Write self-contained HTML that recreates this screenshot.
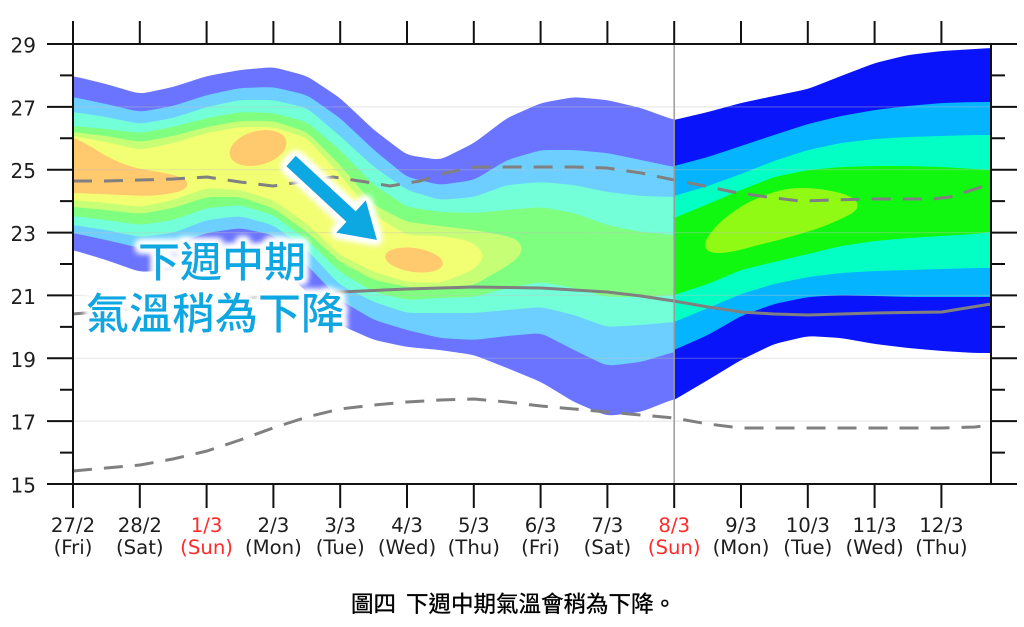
<!DOCTYPE html>
<html><head><meta charset="utf-8"><style>
html,body{margin:0;padding:0;background:#fff;}
svg{display:block;}
.tl{font-family:"DejaVu Sans","Liberation Sans",sans-serif;font-size:19.7px;fill:#1e1e1e;text-anchor:middle;}
.yl{font-family:"DejaVu Sans","Liberation Sans",sans-serif;font-size:20px;fill:#1e1e1e;text-anchor:end;}
.red{fill:#ff2a2a;}
.ann{font-family:"Liberation Sans","Noto Sans CJK TC",sans-serif;fill:#0ea7e2;text-anchor:middle;font-weight:500;}
.cap{font-family:"Liberation Sans","Noto Sans CJK TC",sans-serif;font-size:22.5px;fill:#000;font-weight:400;stroke:#000;stroke-width:0.35px;}
.sm{filter:url(#smooth);}
</style></head><body>
<svg width="1024" height="627" viewBox="0 0 1024 627" xmlns="http://www.w3.org/2000/svg">
<defs>
<filter id="glow" x="-20%" y="-40%" width="140%" height="180%">
<feMorphology in="SourceAlpha" operator="dilate" radius="3" result="d"/>
<feGaussianBlur in="d" stdDeviation="3.5" result="b"/>
<feFlood flood-color="#ffffff"/>
<feComposite in2="b" operator="in" result="w"/>
<feMerge><feMergeNode in="w"/><feMergeNode in="w"/><feMergeNode in="w"/><feMergeNode in="SourceGraphic"/></feMerge>
</filter>
<filter id="smooth" filterUnits="userSpaceOnUse" x="0" y="0" width="1024" height="627" color-interpolation-filters="sRGB">
<feGaussianBlur in="SourceGraphic" stdDeviation="5" result="b"/>
<feComponentTransfer in="b">
<feFuncA type="linear" slope="24" intercept="-11.5"/>
</feComponentTransfer>
</filter>
<clipPath id="clipL"><rect x="73" y="0" width="601.2" height="627"/></clipPath>
<clipPath id="clipR"><rect x="674.2" y="0" width="316.8" height="627"/></clipPath>
</defs>
<rect width="1024" height="627" fill="#fff"/>

<!-- Left (faded) fan -->
<g clip-path="url(#clipL)">
<polygon class="sm" fill="#6b74ff" points="45,76 73,76 106,84 140,94 173,87 207,76 240,70 273,67 307,76 340,98 374,130 407,155 440,160 474,143 507,118 541,103 574,97 607,100 641,108 674,120 700,122 700,397 674,399 641,412 607,416 574,402 541,382 507,368 474,355 440,350 407,347 374,340 340,325 307,292 273,262 240,252 207,258 173,270 140,272 106,260 73,250 45,250"/>
<polygon class="sm" fill="#6dcfff" points="45,97 73,97 106,104 140,112 173,106 207,95 240,88 273,87 307,95 340,118 374,150 407,177 440,185 474,180 507,160 541,150 574,150 607,153 641,160 674,167 700,168 700,350 674,352 641,362 607,366 574,350 541,333 507,336 474,340 440,338 407,330 374,320 340,300 307,265 273,235 240,228 207,233 173,245 140,248 106,240 73,233 45,233"/>
<polygon class="sm" fill="#73ffd8" points="45,112 73,112 106,117 140,124 173,118 207,107 240,100 273,100 307,108 340,136 374,167 407,190 440,200 474,197 507,185 541,182 574,185 607,192 641,196 674,197 700,197 700,321 674,322 641,325 607,327 574,315 541,307 507,310 474,313 440,313 407,313 374,302 340,285 307,250 273,225 240,216 207,220 173,233 140,237 106,230 73,225 45,225"/>
<polygon class="sm" fill="#7fff7f" points="45,126 73,126 106,129 140,133 173,127 207,118 240,112 273,113 307,122 340,150 374,185 407,207 440,212 474,213 507,210 541,207 574,213 607,225 641,232 674,235 700,236 700,294 674,295 641,297 607,297 574,288 541,282 507,288 474,297 440,298 407,300 374,292 340,272 307,240 273,215 240,205 207,208 173,220 140,225 106,220 73,216 45,216"/>
<polygon class="sm" fill="#c6ff76" points="45,132 73,132 106,136 140,142 173,136 207,127 240,121 273,121 307,132 340,165 374,205 407,222 440,226 474,230 507,236 518,240 524,248 518,258 507,266 474,285 440,288 407,287 374,280 340,262 307,232 273,208 240,197 207,197 173,208 140,214 106,210 73,207 45,207"/>
<polygon class="sm" fill="#f2ff72" points="45,136 73,136 106,142 140,150 173,143 207,133 240,127 273,127 307,138 340,175 374,215 407,235 440,236 466,240 478,246 485,256 478,266 466,273 440,283 407,282 374,272 340,255 307,224 273,200 240,190 207,188 173,200 140,207 106,203 73,200 45,200"/>
<polygon class="sm" fill="#ffc96e" points="45,137 73,137 90,146 106,156 123,164 140,169 160,172 178,176 191,181 189,188 175,193 150,196 120,195 100,194 73,193 45,193"/>
<ellipse fill="#ffc96e" cx="258" cy="148" rx="29" ry="17" transform="rotate(-15 258 148)"/>
<ellipse fill="#ffc96e" cx="414" cy="260" rx="29" ry="12" transform="rotate(8 414 260)"/>
</g>

<!-- Right (saturated) fan -->
<g clip-path="url(#clipR)">
<polygon class="sm" fill="#0a14fa" points="650,124 674,120 708,112 741,103 774,96 808,89 841,76 875,63 908,55 942,51 975,49 991,48 1015,48 1015,353 991,353 975,353 942,351 908,348 875,344 841,338 808,336 774,344 741,360 708,380 674,400 650,414"/>
<polygon class="sm" fill="#04b4ff" points="650,172 674,166 708,157 741,146 774,135 808,124 841,116 875,110 908,106 942,103 975,102 991,102 1015,102 1015,297 991,297 975,297 942,297 908,297 875,296 841,295 808,297 774,304 741,316 708,335 674,350 650,360"/>
<polygon class="sm" fill="#04ffc4" points="650,203 674,196 708,186 741,174 774,161 808,150 841,143 875,139 908,137 942,136 975,135 991,135 1015,135 1015,268 991,268 975,268 942,269 908,270 875,271 841,273 808,277 774,284 741,294 708,308 674,322 650,331"/>
<polygon class="sm" fill="#10f810" points="650,228 674,218 708,204 741,190 774,177 808,170 841,167 875,166 908,166 942,167 975,169 991,170 1015,171 1015,231 991,232 975,234 942,236 908,238 875,241 841,246 808,254 774,262 741,270 708,284 674,295 650,302"/>
<polygon class="sm" fill="#90fa14" points="702,248 708,236 718,224 730,214 745,204 760,197 777,191 793,188 810,188 827,190 845,194 857,200 861,207 853,213 843,218 825,226 810,231 793,236 775,241 758,245 740,250 725,253 710,253"/>
</g>

<!-- grid -->
<g stroke="#c0c0c0" stroke-opacity="0.35" stroke-width="1.2">
<line x1="73" y1="106.9" x2="991" y2="106.9"/>
<line x1="73" y1="169.7" x2="991" y2="169.7"/>
<line x1="73" y1="232.6" x2="991" y2="232.6"/>
<line x1="73" y1="295.4" x2="991" y2="295.4"/>
<line x1="73" y1="358.3" x2="991" y2="358.3"/>
<line x1="73" y1="421.1" x2="991" y2="421.1"/>
</g>

<!-- climatology lines -->
<g fill="none" stroke="#808080" stroke-width="3" stroke-linejoin="round">
<polyline stroke-dasharray="19 12" points="73,181 106,181 140,180 173,179 207,177 240,182 273,186 307,181 333,177 360,181 390,186 420,181 445,173 474,167 507,167 541,167 574,167 607,168 641,173 674,180 700,185 733,192 767,197 800,201 833,200 867,199 933,199 950,197 991,184"/>
<polyline stroke-dasharray="19 12" points="73,471 106,468 140,465 173,459 207,451 240,440 273,428 307,417 340,409 374,405 407,402 440,400 474,399 507,402 541,406 574,409 607,412 641,415 674,418 708,424 741,428 942,428 975,427 991,425"/>
<polyline points="73,314 140,308 207,302 273,296 340,292 407,289 474,287 541,288 607,292 641,296 674,301 708,307 741,312 774,314 808,315 841,314 875,313 942,312 960,309 991,304"/>
</g>

<line x1="674.2" y1="44" x2="674.2" y2="484" stroke="#9a9a9a" stroke-width="1.5"/>

<!-- annotation -->
<g filter="url(#glow)">
<text class="ann" x="222" y="277" font-size="42">下週中期</text>
<text class="ann" x="215" y="329" font-size="43">氣溫稍為下降</text>
<polygon fill="#0ea7e2" points="286.3,166.2 295.7,155.8 355.7,211.3 365.8,200.2 377,240 336.2,232.8 346.3,221.7"/>
</g>

<!-- axes -->
<g stroke="#111" stroke-width="2" fill="none">
<path d="M47,44 H1017 M47,484 H1017 M73,21 V508 M991,44 V484"/>
<path d="M139.8,21V44 M206.6,21V44 M273.4,21V44 M340.2,21V44 M407,21V44 M473.8,21V44 M540.6,21V44 M607.4,21V44 M674.2,21V44 M741,21V44 M807.8,21V44 M874.6,21V44 M941.4,21V44"/>
<path d="M139.8,484V508 M206.6,484V508 M273.4,484V508 M340.2,484V508 M407,484V508 M473.8,484V508 M540.6,484V508 M607.4,484V508 M674.2,484V508 M741,484V508 M807.8,484V508 M874.6,484V508 M941.4,484V508"/>
<path d="M47,106.9H73 M47,169.7H73 M47,232.6H73 M47,295.4H73 M47,358.3H73 M47,421.1H73"/>
<path d="M60,75.4H73 M60,138.3H73 M60,201.1H73 M60,264H73 M60,326.9H73 M60,389.7H73 M60,452.6H73"/>
<path d="M991,106.9H1017 M991,169.7H1017 M991,232.6H1017 M991,295.4H1017 M991,358.3H1017 M991,421.1H1017"/>
<path d="M991,75.4H1005 M991,138.3H1005 M991,201.1H1005 M991,264H1005 M991,326.9H1005 M991,389.7H1005 M991,452.6H1005"/>
</g>

<!-- y labels -->
<text class="yl" x="36" y="52.5">29</text>
<text class="yl" x="36" y="115.4">27</text>
<text class="yl" x="36" y="178.2">25</text>
<text class="yl" x="36" y="241.1">23</text>
<text class="yl" x="36" y="303.9">21</text>
<text class="yl" x="36" y="366.8">19</text>
<text class="yl" x="36" y="429.6">17</text>
<text class="yl" x="36" y="492.5">15</text>

<!-- x labels -->
<text class="tl" x="73" y="532">27/2</text><text class="tl" x="73" y="554">(Fri)</text>
<text class="tl" x="139.8" y="532">28/2</text><text class="tl" x="139.8" y="554">(Sat)</text>
<text class="tl red" x="206.6" y="532">1/3</text><text class="tl red" x="206.6" y="554">(Sun)</text>
<text class="tl" x="273.4" y="532">2/3</text><text class="tl" x="273.4" y="554">(Mon)</text>
<text class="tl" x="340.2" y="532">3/3</text><text class="tl" x="340.2" y="554">(Tue)</text>
<text class="tl" x="407" y="532">4/3</text><text class="tl" x="407" y="554">(Wed)</text>
<text class="tl" x="473.8" y="532">5/3</text><text class="tl" x="473.8" y="554">(Thu)</text>
<text class="tl" x="540.6" y="532">6/3</text><text class="tl" x="540.6" y="554">(Fri)</text>
<text class="tl" x="607.4" y="532">7/3</text><text class="tl" x="607.4" y="554">(Sat)</text>
<text class="tl red" x="674.2" y="532">8/3</text><text class="tl red" x="674.2" y="554">(Sun)</text>
<text class="tl" x="741" y="532">9/3</text><text class="tl" x="741" y="554">(Mon)</text>
<text class="tl" x="807.8" y="532">10/3</text><text class="tl" x="807.8" y="554">(Tue)</text>
<text class="tl" x="874.6" y="532">11/3</text><text class="tl" x="874.6" y="554">(Wed)</text>
<text class="tl" x="941.4" y="532">12/3</text><text class="tl" x="941.4" y="554">(Thu)</text>

<!-- caption -->
<text class="cap" x="351" y="612">圖四</text>
<text class="cap" x="406" y="612">下週中期氣溫會稍為下降。</text>
</svg>
</body></html>
